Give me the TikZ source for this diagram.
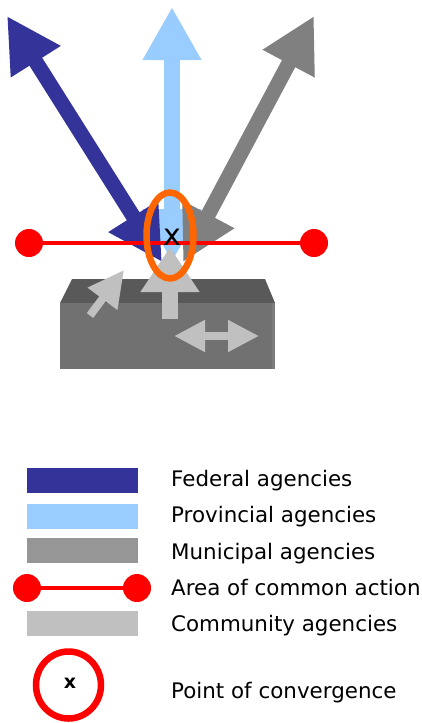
\documentclass[tikz,border=0pt]{standalone}
\usepackage{fontspec}
\setmainfont{DejaVu Sans}
\usetikzlibrary{arrows.meta, shapes.geometric}

\definecolor{fedblue}{HTML}{333399}
\definecolor{provblue}{HTML}{99CCFF}
\definecolor{munigray}{HTML}{808080}
\definecolor{munikeygray}{HTML}{969696}
\definecolor{commgray}{HTML}{C0C0C0}
\definecolor{boxtop}{HTML}{595959}
\definecolor{boxfront}{HTML}{717171}
\definecolor{boxedge}{HTML}{7C7C7C}
\definecolor{convorange}{HTML}{FF6600}

\begin{document}
\begin{tikzpicture}[
            x = 1pt, y = -1pt, % work in points, y going down
            > = Triangle, % arrow head style
            line cap = butt,
            font = \fontsize{21.4}{25}\selectfont
        ]

        \tikzstyle{key}=[
            rectangle,
            inner sep = 0pt,
            minimum width = 111pt,
            minimum height = 25pt
        ]
        \tikzstyle{dot}=[
            circle,
            fill = red,
            inner sep = 0pt,
            minimum size = 28pt
        ]
        \tikzstyle{label}=[
            anchor = base west,
            inner sep = 0pt
        ]

        \useasboundingbox (0,0) rectangle (422,723);

        % ends of the agency arrows
        \coordinate (provtop) at (172,7);
        \coordinate (provbot) at (172,262);
        \coordinate (fedtop) at (7,16);
        \coordinate (fedbot) at (162,262);
        \coordinate (munitop) at (314,16);
        \coordinate (munibot) at (183,262);

        \draw[provblue, line width = 16pt,
            {Triangle[length=53pt, width=55pt]}-{Triangle[length=53pt, width=55pt]}]
            (provbot) -- (provtop);
        \draw[fedblue, line width = 15pt,
            {Triangle[length=54pt, width=55pt]}-{Triangle[length=54pt, width=55pt]}]
            (fedbot) -- (fedtop);
        \draw[munigray, line width = 15pt,
            {Triangle[length=54pt, width=55pt]}-{Triangle[length=54pt, width=55pt]}]
            (munibot) -- (munitop);

        % area of common action
        \node[dot] (lend) at (29,243) {};
        \node[dot] (rend) at (314,243) {};
        \draw[red, line width = 4pt] (lend) -- (rend);

        % the community block
        \fill[boxtop] (72,279) -- (265,279) -- (275,303) -- (60,303) -- cycle;
        \fill[boxfront] (60,303) rectangle (275,369);
        \draw[boxedge, line width = 3pt] (273.5,303) -- (273.5,369);

        % community arrows
        \coordinate (uptail) at (170,319);
        \coordinate (uptip) at (170,247);
        \coordinate (diagtail) at (90,315.5);
        \coordinate (diagtip) at (124,270);
        \coordinate (sidel) at (174,336);
        \coordinate (sider) at (259,336);

        \draw[commgray, line width = 16pt, -{Triangle[length=45pt, width=56pt]}]
            (uptail) -- (uptip);
        \draw[commgray, line width = 8pt, -{Triangle[length=36pt, width=35pt]}]
            (diagtail) -- (diagtip);
        \draw[commgray, line width = 8pt,
            {Triangle[length=31pt, width=30pt]}-{Triangle[length=31pt, width=30pt]}]
            (sidel) -- (sider);

        % point of convergence
        \node[ellipse, draw = convorange, line width = 6.5pt, inner sep = 0pt,
            minimum width = 47pt, minimum height = 86pt] (conv) at (170,235.5) {};
        \node[inner sep = 0pt, font = \fontsize{30}{30}\selectfont] (xmark) at (172,237.5) {x};

        % legend
        \node[key, fill = fedblue] (fedkey) at (82.5,480.5) {};
        \node[key, fill = provblue] (provkey) at (82.5,516.5) {};
        \node[key, fill = munikeygray] (munikey) at (82.5,550.5) {};
        \node[dot] (keylend) at (27,588) {};
        \node[dot] (keyrend) at (137,588) {};
        \draw[red, line width = 4pt] (keylend) -- (keyrend);
        \node[key, fill = commgray] (commkey) at (82.5,623) {};
        \node[ellipse, draw = red, line width = 6.5pt, inner sep = 0pt,
            minimum width = 65pt, minimum height = 67pt] (convkey) at (68.5,685) {};
        \node[inner sep = 0pt, font = \fontsize{19}{19}\selectfont\bfseries] (keyx) at (70,683) {x};

        \node[label] (fedtext) at (171,486) {Federal agencies};
        \node[label] (provtext) at (171,522) {Provincial agencies};
        \node[label] (munitext) at (171,559) {Municipal agencies};
        \node[label] (areatext) at (171,595) {Area of common action};
        \node[label] (commtext) at (171,631) {Community agencies};
        \node[label] (convtext) at (171,698) {Point of convergence};

  \end{tikzpicture}
\end{document}
